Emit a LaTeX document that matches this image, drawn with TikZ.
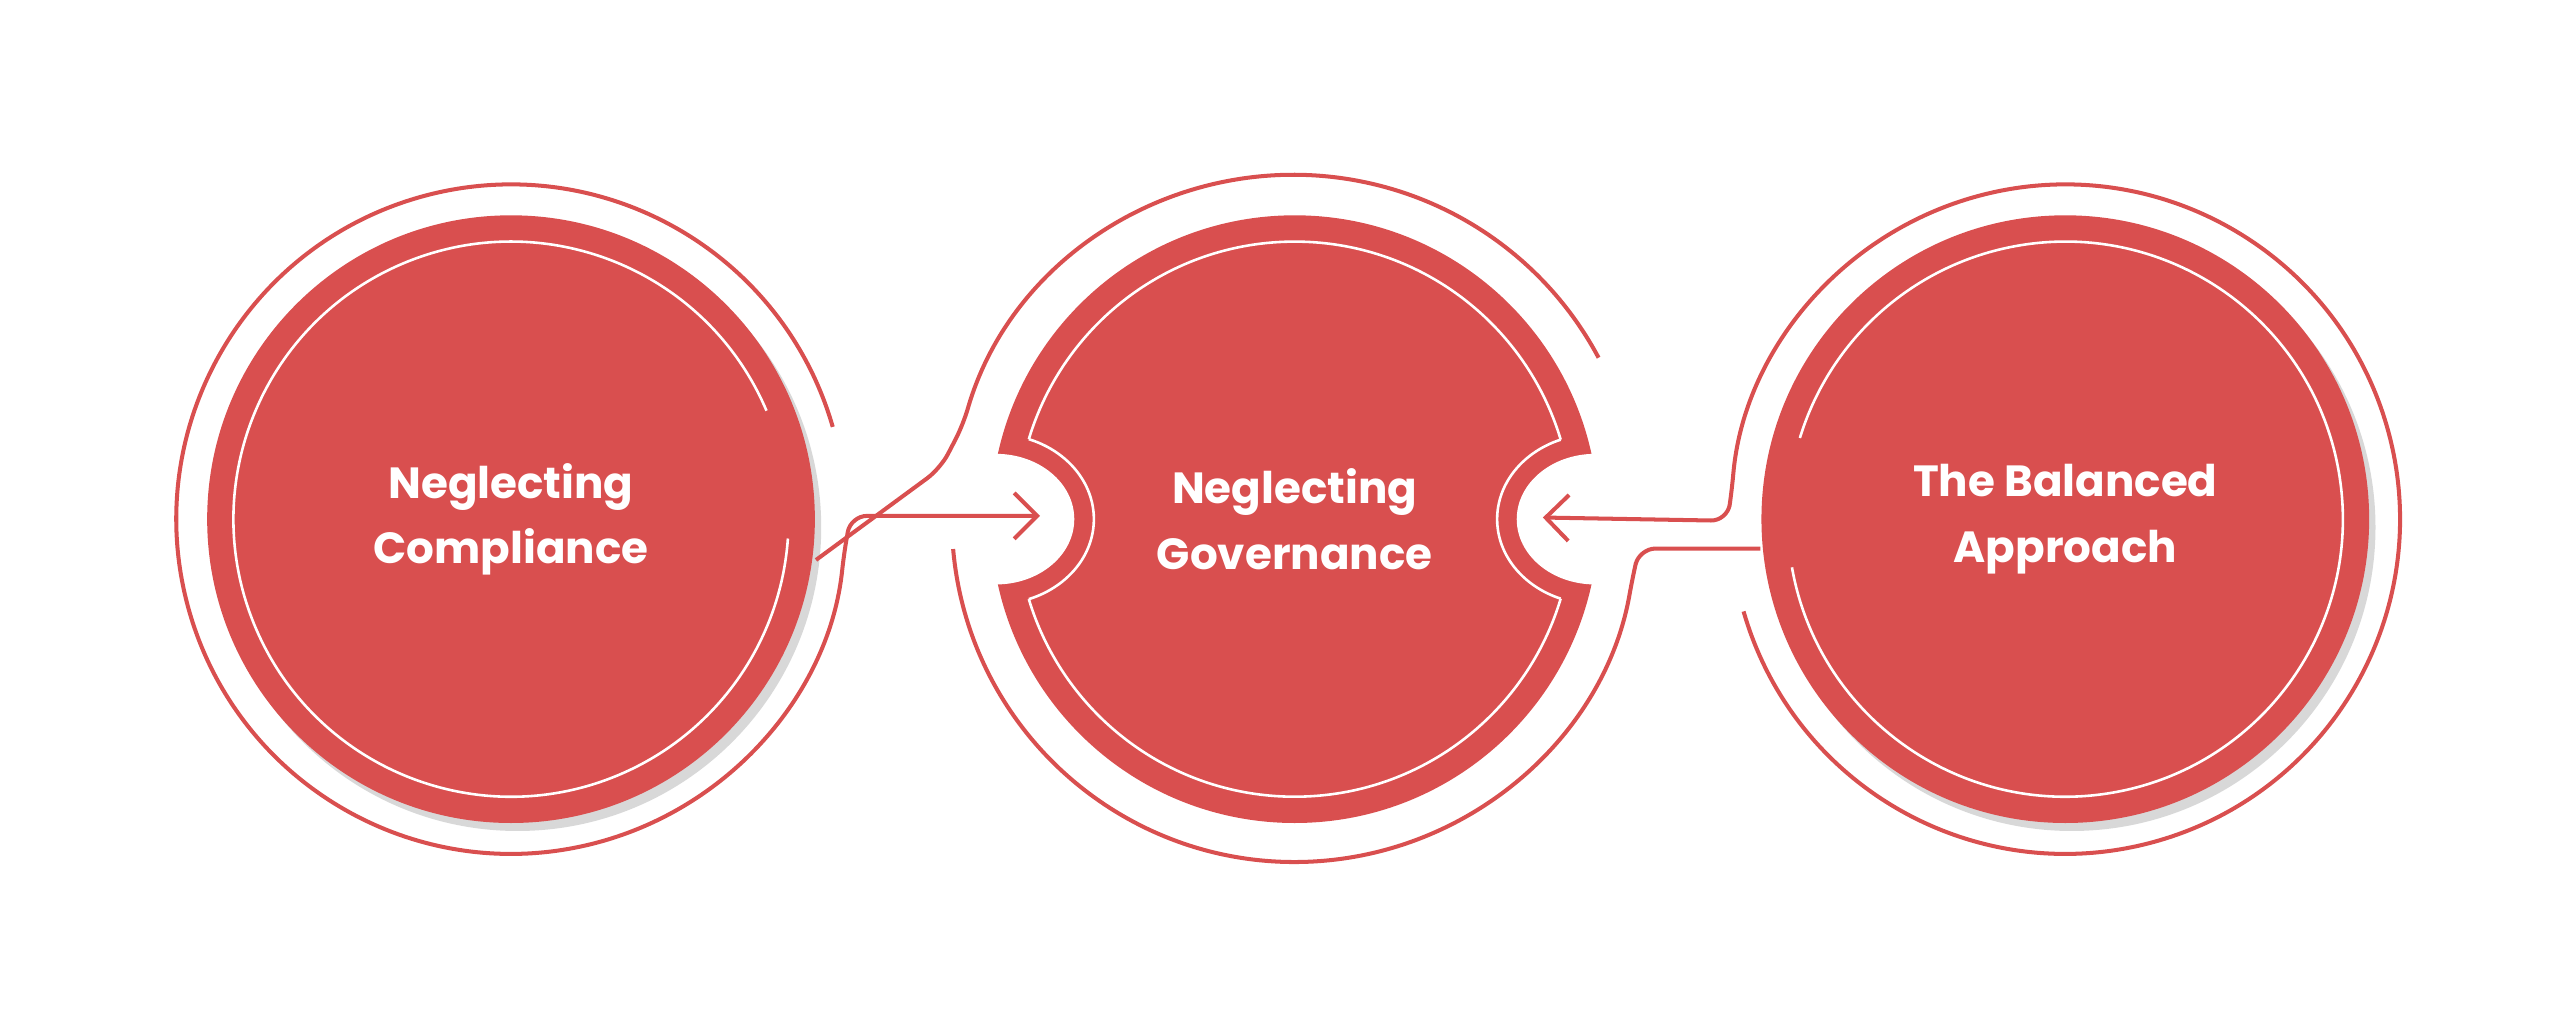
\documentclass[tikz,border=0pt]{standalone}
\usepackage{fontspec}
\setmainfont{Poppins}
\usetikzlibrary{arrows.meta}
\definecolor{accentred}{RGB}{217,79,79}
\tikzset{
  disc/.style={circle, fill=accentred, minimum size=3.72cm, inner sep=0pt,
    text=white, font=\fontsize{7.6}{11.4}\selectfont\bfseries, align=center},
  ring/.style={draw=accentred, line width=0.7pt, rounded corners=0.1cm},
  inner line/.style={draw=white, line width=0.45pt},
  arrow tip/.style={-{Straight Barb[length=4pt,width=8pt,line width=0.7pt]}}
}
\begin{document}
\begin{tikzpicture}[x=0.01cm,y=0.01cm]
  \useasboundingbox (0,0) rectangle (1568,619);
  % shadows
  \fill[black!30, opacity=0.5] (317,296) circle[radius=186];
  \fill[black!30, opacity=0.5] (1269,296) circle[radius=186];
  % discs
  \node[disc] (nc) at (313,301) {Neglecting\\Compliance};
  \node[disc] (ng) at (793,301) {};
  \node[disc] (ba) at (1265,301) {The Balanced\\Approach};
  % notches of the middle disc
  \fill[white] (610,301) ellipse[x radius=48, y radius=40];
  \fill[white] (977,301) ellipse[x radius=48, y radius=40];
  \node[text=white, font=\fontsize{7.6}{11.4}\selectfont\bfseries, align=center]
    (ngtext) at (ng.center) {Neglecting\\Governance};
  % inner white lines
  \draw[inner line] (nc.center) ++(23:170) arc[start angle=23, end angle=356, radius=170];
  \draw[inner line] (ba.center) ++(-170:170) arc[start angle=-170, end angle=163, radius=170];
  \begin{scope}[even odd rule]
    \clip (400,0) rectangle (1200,619)
      (610,301) ellipse[x radius=60, y radius=52]
      (977,301) ellipse[x radius=60, y radius=52];
    \draw[inner line] (ng.center) circle[radius=170];
  \end{scope}
  \begin{scope}
    \clip (ng.center) circle[radius=170];
    \draw[inner line] (610,301) ellipse[x radius=60, y radius=52];
    \draw[inner line] (977,301) ellipse[x radius=60, y radius=52];
  \end{scope}
  % outer rings and connectors
  \coordinate (tipL) at (637,303);
  \coordinate (tipR) at (945,302);
  \draw[ring, arrow tip] (nc.center) ++(16:205) arc[start angle=16, end angle=354, radius=205]
    -- (521,303) -- (tipL);
  \draw[ring] (nc.east) ++(0,-25) -- (576,332) -- (590,359)
    arc[start angle=164, end angle=28, radius=211];
  \draw[ring] (ng.center) ++(185:210) arc[start angle=185, end angle=350, radius=210]
    -- (1004,283) -- (ba.west |- 0,283);
  \draw[ring, arrow tip] (ba.center) ++(-164:205) arc[start angle=-164, end angle=175, radius=205]
    -- (1058,300) -- (tipR);
\end{tikzpicture}
\end{document}
